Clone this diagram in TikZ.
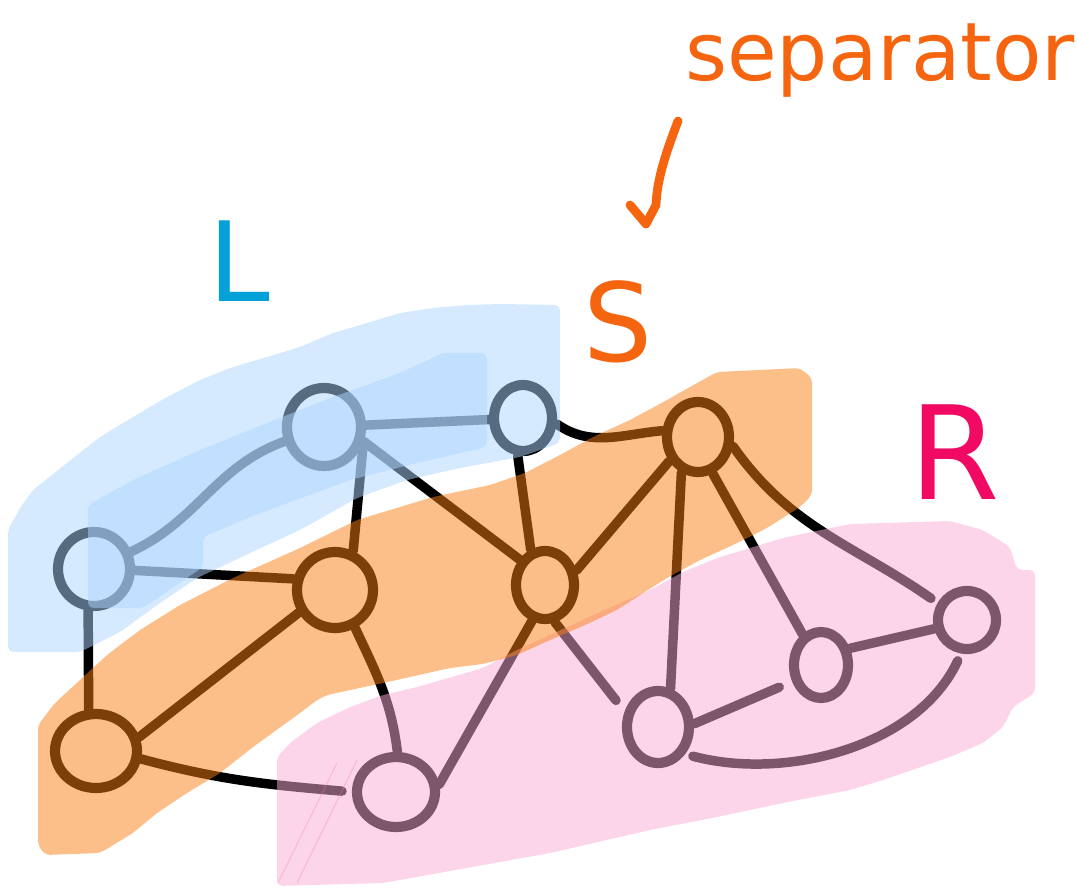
\documentclass[tikz,border=0pt]{standalone}
\usepackage{fontspec}
\setmainfont{DejaVu Sans}
\usetikzlibrary{shapes.geometric}
\definecolor{hlblue}{RGB}{172,212,255}
\definecolor{hlorange}{RGB}{249,127,20}
\definecolor{hlpink}{RGB}{252,172,214}
\definecolor{penorange}{RGB}{245,101,15}
\definecolor{penblue}{RGB}{4,161,217}
\definecolor{penpink}{RGB}{240,10,100}
\begin{document}
\begin{tikzpicture}[x=0.02cm,y=-0.02cm,
  vtx/.style={ellipse, draw=black, fill=white, line width=5.8pt, inner sep=0pt},
  edge/.style={draw=black, line width=5.4pt, line cap=round},
  hl/.style={fill opacity=0.5, draw=none, rounded corners=3pt},
  lab/.style={inner sep=0pt, text=#1},
  pen/.style={line width=5pt, line cap=round, line join=round, color=#1},
]
\useasboundingbox (0,0) rectangle (1077,891);

% vertices
\node[vtx, minimum width=1.48cm, minimum height=1.56cm] (A) at (324,427) {};
\node[vtx, minimum width=1.16cm, minimum height=1.32cm] (B) at (523,418) {};
\node[vtx, minimum width=1.44cm, minimum height=1.48cm] (C) at (94,569) {};
\node[vtx, minimum width=1.52cm, minimum height=1.52cm] (D) at (335,590) {};
\node[vtx, minimum width=1.16cm, minimum height=1.36cm] (E) at (545,585) {};
\node[vtx, minimum width=1.24cm, minimum height=1.40cm] (F) at (698,437) {};
\node[vtx, minimum width=1.64cm, minimum height=1.48cm] (G) at (96,751) {};
\node[vtx, minimum width=1.56cm, minimum height=1.40cm] (H) at (396,792) {};
\node[vtx, minimum width=1.24cm, minimum height=1.44cm] (I) at (658,727) {};
\node[vtx, minimum width=1.08cm, minimum height=1.32cm] (J) at (821,665) {};
\node[vtx, minimum width=1.16cm, minimum height=1.16cm] (K) at (967,620) {};

% edges
\draw[edge] (A) -- (B);
\draw[edge] (A.200) to[out=200,in=25] (C.25);
\draw[edge] (A.-22) -- (D.65);
\draw[edge] (A.-20) -- (E.135);
\draw[edge] (B.-98) -- (E.112);
\draw[edge] (B.-10) to[out=-35,in=185] (F.170);
\draw[edge] (C.-2) -- (D.165);
\draw[edge] (C.-98) -- (G.100);
\draw[edge] (D.-148) -- (G.18);
\draw[edge] (D.-62) to[out=-65,in=97] (H.88);
\draw[edge] (E.-110) -- (H.10);
\draw[edge] (E.25) -- (F.-140);
\draw[edge, shorten >=0.28cm] (E.-75) -- (I.155);
\draw[edge] (F.-115) -- (I.72);
\draw[edge] (F.-68) -- (J.121);
\draw[edge, shorten >=0.16cm] (F.-15) to[out=-55,in=145] (K.150);
\draw[edge, shorten >=0.2cm] (G.-10) to[out=-15,in=175] (H.180);
\draw[edge, shorten >=0.28cm] (I.5) -- (J.-150);
\draw[edge] (J.30) -- (K.-165);
\draw[edge, shorten <=0.16cm, shorten >=0.16cm] (K.-100) to[out=-115,in=-15,looseness=0.9] (I.-45);

% highlights
\fill[hl, hlpink] (277,757) -- (290,743) -- (317,723) -- (350,707) -- (383,695) -- (417,687) -- (483,668) -- (517,650) -- (550,635) -- (600,612) -- (650,590) -- (683,572) -- (717,558) -- (783,538) -- (850,524) -- (950,521) -- (983,530) -- (1010,547) -- (1017,570) -- (1035,570) -- (1035,693) -- (1013,707) -- (1003,727) -- (983,743) -- (950,757) -- (883,780) -- (850,790) -- (783,803) -- (717,817) -- (650,830) -- (550,853) -- (383,883) -- (277,886) -- cycle;
\fill[hl, hlorange] (38,725) -- (55,703) -- (80,680) -- (107,655) -- (140,630) -- (180,605) -- (233,578) -- (300,548) -- (357,520) -- (433,497) -- (490,485) -- (525,473) -- (560,455) -- (593,437) -- (630,420) -- (667,400) -- (697,383) -- (717,372) -- (800,368) -- (812,378) -- (812,495) -- (800,507) -- (767,528) -- (733,545) -- (700,560) -- (667,578) -- (640,595) -- (617,610) -- (583,626) -- (550,640) -- (517,655) -- (483,664) -- (450,668) -- (383,683) -- (327,695) -- (317,700) -- (300,713) -- (253,747) -- (220,773) -- (187,793) -- (157,813) -- (133,833) -- (100,853) -- (45,855) -- (38,845) -- cycle;
\fill[hl, hlblue] (8,652) -- (80,652) -- (120,632) -- (160,603) -- (197,578) -- (250,553) -- (300,530) -- (357,498) -- (407,480) -- (460,468) -- (520,457) -- (560,443) -- (560,305) -- (500,304) -- (467,305) -- (433,308) -- (400,313) -- (367,323) -- (333,333) -- (300,347) -- (267,357) -- (233,367) -- (200,380) -- (167,397) -- (133,417) -- (100,437) -- (67,463) -- (33,490) -- (20,508) -- (8,530) -- cycle;
\fill[hl, hlblue] (88,505) -- (133,480) -- (200,450) -- (267,423) -- (333,397) -- (400,373) -- (443,353) -- (487,353) -- (487,447) -- (417,463) -- (350,480) -- (250,517) -- (203,537) -- (203,567) -- (143,608) -- (88,608) -- cycle;

% faint pen traces
\draw[hlpink!70!penpink, opacity=0.35, line width=0.6pt] (278,883) -- (337,763);
\draw[hlpink!70!penpink, opacity=0.35, line width=0.6pt] (297,883) -- (357,760);

% labels
\node[lab=penblue, font=\fontsize{63pt}{63pt}\selectfont] (Llab) at (239,261) {L};
\node[lab=penorange, font=\fontsize{62pt}{62pt}\selectfont] (Slab) at (618,322) {S};
\node[lab=penpink, font=\fontsize{74pt}{74pt}\selectfont] (Rlab) at (955,452) {R};
\node[lab=penorange, font=\fontsize{46pt}{46pt}\selectfont] (sep) at (880,61) {separator};

% arrow stroke pointing at S
\coordinate (arrTop) at (678,121);
\coordinate (arrTip) at (646,224);
\coordinate (arrHook) at (630,205);
\draw[pen=penorange] (arrTop) .. controls (665,155) and (657,180) .. (656,205) -- (arrTip) -- (arrHook);
\end{tikzpicture}
\end{document}
